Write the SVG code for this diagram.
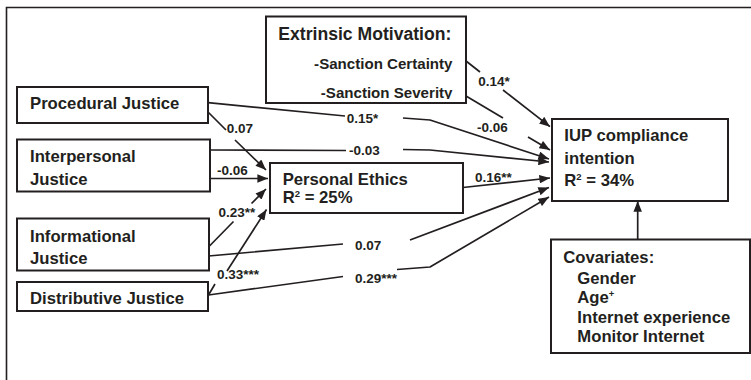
<svg xmlns="http://www.w3.org/2000/svg" width="751" height="380" viewBox="0 0 751 380">
<style>
.box{fill:#fff;stroke:#231f20;stroke-width:2}
.t{font-family:"Liberation Sans",Arial,Helvetica,sans-serif;font-weight:bold;font-size:16.7px;fill:#231f20}
.lbl{font-family:"Liberation Sans",Arial,Helvetica,sans-serif;font-weight:bold;font-size:13.5px;fill:#231f20}
.sup{font-size:9.5px}
.ln{fill:none;stroke:#231f20;stroke-width:1.7;stroke-linejoin:round}
.arr{marker-end:url(#ah)}
</style>
<defs>
<marker id="ah" viewBox="0 0 10 8" refX="10" refY="4" markerWidth="11" markerHeight="8.5" markerUnits="userSpaceOnUse" orient="auto">
<path d="M0,0 L10,4 L0,8 z" fill="#231f20"/>
</marker>
<clipPath id="clipExt"><rect x="266" y="16" width="200" height="83"/></clipPath>
</defs>
<rect width="751" height="380" fill="#fff"/>
<path d="M6.5,381 V7.5 H752" fill="none" stroke="#231f20" stroke-width="1.6"/>

<g id="connectors">
<path class="ln arr" d="M466,61 L480,72 M503,90 L550,126.7"/>
<path class="ln arr" d="M466,96 L503,118 M528,137 L550,150"/>
<path class="ln arr" d="M208,102.7 L345,116 M403,118 L430,120 L549,159"/>
<path class="ln arr" d="M210,150 L346,150.5 M403,149.5 L430,150 L549,162"/>
<path class="ln arr" d="M210,178.5 L268,178.5"/>
<path class="ln arr" d="M208,112 L226,130 M235,140 L266,170"/>
<path class="ln arr" d="M209,246.5 L233.5,221.5 M251.5,203.5 L266,189"/>
<path class="ln arr" d="M208.5,295 L215,284 M227,271 L266.5,209.5"/>
<path class="ln arr" d="M208.5,256 L343,244 M410,240 L549,187.5"/>
<path class="ln arr" d="M208.5,295 L343,276.5 M397,269.5 L430,267 L549,197"/>
<path class="ln arr" d="M463,187.5 L550,178"/>
<path class="ln arr" d="M637.7,239 L637.7,201"/>
<text class="lbl" x="478.3" y="86">0.14*</text>
<text class="lbl" x="477" y="132">-0.06</text>
<text class="lbl" x="346.7" y="122.5">0.15*</text>
<text class="lbl" x="349" y="154.5">-0.03</text>
<text class="lbl" x="217" y="174.5">-0.06</text>
<text class="lbl" x="226.7" y="132.5">0.07</text>
<text class="lbl" x="218.5" y="217">0.23**</text>
<text class="lbl" x="217" y="279">0.33***</text>
<text class="lbl" x="355" y="250">0.07</text>
<text class="lbl" x="355" y="282.5">0.29***</text>
<text class="lbl" x="475" y="181.7">0.16**</text>
</g>

<g id="extrinsic">
<rect class="box" x="266" y="16.5" width="200" height="86.5"/>
<text class="t" x="278.3" y="40" style="font-size:17.6px">Extrinsic Motivation:</text>
<text class="t" x="452.5" y="68.5" text-anchor="end" style="font-size:15.1px">-Sanction Certainty</text>
<text class="t" x="452.5" y="97.5" text-anchor="end" style="font-size:15.1px" clip-path="url(#clipExt)">-Sanction Severity</text>
</g>

<g id="procedural">
<rect class="box" x="17" y="87" width="191" height="36"/>
<text class="t" x="30" y="109">Procedural Justice</text>
</g>

<g id="interpersonal">
<rect class="box" x="17" y="139.5" width="193" height="52"/>
<text class="t" x="30" y="162">Interpersonal</text>
<text class="t" x="30" y="185">Justice</text>
</g>

<g id="informational">
<rect class="box" x="17" y="218.5" width="192" height="52"/>
<text class="t" x="30" y="241.7">Informational</text>
<text class="t" x="30" y="263.5">Justice</text>
</g>

<g id="distributive">
<rect class="box" x="17" y="282" width="191" height="29"/>
<text class="t" x="30" y="304">Distributive Justice</text>
</g>

<g id="ethics">
<rect class="box" x="270" y="163" width="193" height="50"/>
<text class="t" x="282.7" y="185">Personal Ethics</text>
<text class="t" x="282.7" y="203.3">R<tspan class="sup" dy="-6.5">2</tspan><tspan dy="6.5"> = 25%</tspan></text>
</g>

<g id="iup">
<rect class="box" x="552" y="119" width="176" height="82"/>
<text class="t" x="564.3" y="140.7">IUP compliance</text>
<text class="t" x="564.3" y="164">intention</text>
<text class="t" x="564.3" y="186">R<tspan class="sup" dy="-6.5">2</tspan><tspan dy="6.5"> = 34%</tspan></text>
</g>

<g id="covariates">
<rect class="box" x="551" y="239.5" width="199" height="113.5"/>
<text class="t" x="563.3" y="262.5">Covariates:</text>
<text class="t" x="577.3" y="283.5">Gender</text>
<text class="t" x="577.3" y="303">Age<tspan class="sup" dy="-6.5">+</tspan></text>
<text class="t" x="577.3" y="322.5">Internet experience</text>
<text class="t" x="577.3" y="342">Monitor Internet</text>
</g>
</svg>
